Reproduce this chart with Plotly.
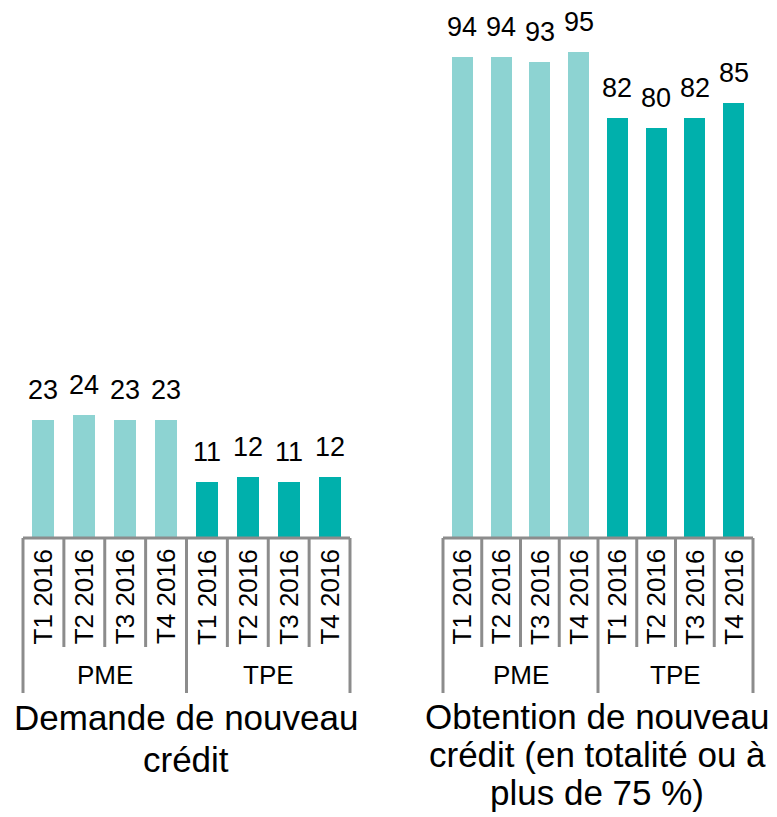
import plotly.graph_objects as go

# ---------------- data ----------------
groups = ["PME", "TPE"]
quarters = ["T1 2016", "T2 2016", "T3 2016", "T4 2016"]
demande_pme = [23, 24, 23, 23]
demande_tpe = [11, 12, 11, 12]
obtention_pme = [94, 94, 93, 95]
obtention_tpe = [82, 80, 82, 85]
panel_titles = [["Demande de nouveau", "crédit"],
                ["Obtention de nouveau", "crédit (en totalité ou à", "plus de 75 %)"]]

# ---------------- style / layout constants ----------------
PAGE_W, PAGE_H = 777, 817
OFF = 8                                   # default page body margin
W, H = PAGE_W - OFF, PAGE_H - OFF
FONT = "Liberation Sans, Arial, sans-serif"
C_PME = "#8DD3D2"
C_TPE = "#00B0AC"
LINE_C = "#8C8C8C"
panels_px = [(23, 350), (443, 753)]       # x extent of each panel (page px)
BASE_PX = 538                              # baseline (page px from top)
TOP_PX = 26                                # y=100
INNER_BOTTOM_PX = 647
OUTER_BOTTOM_PX = 693
TICKLABEL_PX = 597
GROUPLABEL_PX = 675
title_baselines = [[730, 772], [729, 767, 805]]
title_centers = [186, 597]
TITLE_SIZE = 35


def py(p):
    return (H - (p - OFF)) / H


def px(p):
    return (p - OFF) / W


n_cat = len(groups) * len(quarters)
xs = list(range(n_cat))
data_sets = [(demande_pme, demande_tpe), (obtention_pme, obtention_tpe)]

fig = go.Figure()
annotations = []
shapes = []

for k, ((pme, tpe), (x0p, x1p)) in enumerate(zip(data_sets, panels_px)):
    xa = "x" if k == 0 else "x2"
    ya = "y" if k == 0 else "y2"
    values = pme + tpe
    fig.add_trace(go.Bar(x=xs[:len(pme)], y=pme, xaxis=xa, yaxis=ya,
                         marker=dict(color=C_PME, line=dict(width=0)),
                         width=0.54, hoverinfo="skip", showlegend=False))
    fig.add_trace(go.Bar(x=xs[len(pme):], y=tpe, xaxis=xa, yaxis=ya,
                         marker=dict(color=C_TPE, line=dict(width=0)),
                         width=0.54, hoverinfo="skip", showlegend=False))

    # value labels
    for xi, v in zip(xs, values):
        annotations.append(dict(x=xi, y=v, xref=xa, yref=ya, text=str(v),
                                showarrow=False, yanchor="bottom", yshift=13,
                                font=dict(size=27, color="#000000", family=FONT)))

    cw = (x1p - x0p) / n_cat

    def cx(i):
        return px(x0p + (i + 0.5) * cw)

    def bx(i):
        return px(x0p + i * cw)

    # category (quarter) labels
    for gi, g in enumerate(groups):
        for qi, q in enumerate(quarters):
            i = gi * len(quarters) + qi
            annotations.append(dict(x=cx(i), y=py(TICKLABEL_PX), xref="paper", yref="paper",
                                    text=q, textangle=-90, showarrow=False,
                                    xanchor="center", yanchor="middle",
                                    font=dict(size=26, color="#000000", family=FONT)))
        gc = px(x0p + (gi * len(quarters) + len(quarters) / 2) * cw)
        annotations.append(dict(x=gc, y=py(GROUPLABEL_PX), xref="paper", yref="paper",
                                text=g, showarrow=False, xanchor="center", yanchor="middle",
                                font=dict(size=26, color="#000000", family=FONT)))

    # axis line
    shapes.append(dict(type="line", xref="paper", yref="paper",
                       x0=bx(0), x1=bx(n_cat), y0=py(BASE_PX), y1=py(BASE_PX),
                       line=dict(color=LINE_C, width=3)))
    # boundaries
    for b in range(n_cat + 1):
        outer = (b % len(quarters) == 0)
        shapes.append(dict(type="line", xref="paper", yref="paper",
                           x0=bx(b), x1=bx(b), y0=py(BASE_PX),
                           y1=py(OUTER_BOTTOM_PX if outer else INNER_BOTTOM_PX),
                           line=dict(color=LINE_C, width=3)))

    # panel title (one annotation per line for tight line spacing)
    for line_text, base in zip(panel_titles[k], title_baselines[k]):
        annotations.append(dict(x=px(title_centers[k]), y=py(base - 0.35 * TITLE_SIZE),
                                xref="paper", yref="paper",
                                text=line_text, showarrow=False, xanchor="center",
                                yanchor="middle", align="center",
                                font=dict(size=TITLE_SIZE, color="#000000", family=FONT)))

axis_common = dict(showticklabels=False, showgrid=False, zeroline=False, showline=False,
                   ticks="", fixedrange=True)
fig.update_layout(
    width=W, height=H,
    margin=dict(l=0, r=0, t=0, b=0),
    paper_bgcolor="white", plot_bgcolor="white",
    font=dict(family=FONT, color="#000000"),
    bargap=0,
    xaxis=dict(domain=[px(panels_px[0][0]), px(panels_px[0][1])], range=[-0.5, n_cat - 0.5],
               anchor="y", **axis_common),
    yaxis=dict(domain=[py(BASE_PX), py(TOP_PX)], range=[0, 100], anchor="x", **axis_common),
    xaxis2=dict(domain=[px(panels_px[1][0]), px(panels_px[1][1])], range=[-0.5, n_cat - 0.5],
                anchor="y2", **axis_common),
    yaxis2=dict(domain=[py(BASE_PX), py(TOP_PX)], range=[0, 100], anchor="x2", **axis_common),
    annotations=annotations,
    shapes=shapes,
)

fig.write_html("out.html")
